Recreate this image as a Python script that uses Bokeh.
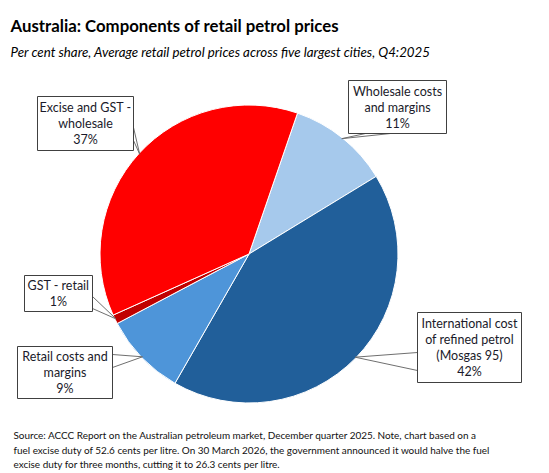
import numpy as np
from bokeh.plotting import figure
from bokeh.models import Range1d, ColumnDataSource
from bokeh.core.properties import value
from bokeh.embed import file_html
from bokeh.resources import INLINE

# ---- data (clockwise order starting from first slice) ----
categories = [["Wholesale costs", "and margins"],
              ["International cost", "of refined petrol", "(Mosgas 95)"],
              ["Retail costs and", "margins"],
              ["GST - retail"],
              ["Excise and GST -", "wholesale"]]
shares = [11, 42, 9, 1, 37]
colors = ["#A6C9EC", "#215F9A", "#4E95D9", "#C00000", "#FF0000"]

title = "Australia: Components of retail petrol prices"
subtitle = "Per cent share, Average retail petrol prices across five largest cities, Q4:2025"
footnote = ["Source: ACCC Report on the Australian petroleum market, December quarter 2025. Note, chart based on  a",
            "fuel excise duty of 52.6 cents per litre. On 30 March 2026, the government announced it would halve the fuel",
            "excise duty for three months, cutting it to 26.3 cents per litre."]

W, H = 545, 470
FONT = "Lato"

def X(px):
    return px

def Y(py):
    return H - py

p = figure(width=W, height=H, x_range=Range1d(0, W), y_range=Range1d(0, H),
           output_backend="svg", toolbar_location=None, min_border=0)
p.axis.visible = False
p.grid.visible = False
p.outline_line_color = None
p.background_fill_color = "white"

# ---- pie ----
cx, cy, r = X(248.5), Y(253.5), 149
first_angle = 19.0  # degrees clockwise from top
vals = np.array(shares, dtype=float)
frac = vals / vals.sum()
cum = np.concatenate([[0], np.cumsum(frac)]) * 360 + first_angle
th1, th2 = cum[:-1], cum[1:]
start = np.radians(90 - th2)
end = np.radians(90 - th1)
mid = np.radians(90 - (th1 + th2) / 2)

src = ColumnDataSource(dict(start=start, end=end, color=colors))
p.wedge(x=cx, y=cy, radius=r, radius_units="screen", start_angle="start", end_angle="end",
        fill_color="color", line_color="white", line_width=1, source=src)

# ---- callout boxes (page px): left, top, right, bottom, base points ----
boxes = [
    (348, 80, 446, 133, [(365, 133), (390, 133)]),
    (417, 312, 521, 382, [(417, 352), (417, 370)]),
    (17, 346, 112, 398, [(112, 354), (112, 367)]),
    (24, 275, 92, 311, [(92, 296), (92, 308)]),
    (37, 96, 133, 150, [(133, 127), (133, 140)]),
]
lh = 16
for i, (l, t, rr, b, base) in enumerate(boxes):
    ax = cx + (r - 1) * np.cos(mid[i])
    ay = cy + (r - 1) * np.sin(mid[i])
    for (bx, by) in base:
        p.line([X(bx), ax], [Y(by), ay], line_color="#6f6f6f", line_width=1)
    p.quad(left=X(l), right=X(rr), top=Y(t), bottom=Y(b), fill_color="white",
           line_color="#404040", line_width=1)
    lines = categories[i] + [f"{shares[i]:.0f}%"]
    n = len(lines)
    yc = (t + b) / 2
    for k, s in enumerate(lines):
        py = yc + (k - (n - 1) / 2) * lh
        p.text(x=[X((l + rr) / 2)], y=[Y(py)], text=[s],
               text_font=value(FONT), text_font_size="12.5px", text_align="center",
               text_baseline="middle", text_color="#1a1a2a")

# ---- titles ----
p.text(x=[X(10)], y=[Y(25)], text=[title], text_font=value(FONT), text_font_style="bold",
       text_font_size="16.8px", text_baseline="alphabetic", text_color="black")
p.text(x=[X(10)], y=[Y(51)], text=[subtitle], text_font=value(FONT), text_font_style="italic",
       text_font_size="13.3px", text_baseline="alphabetic", text_color="black")
for k, line in enumerate(footnote):
    p.text(x=[X(13)], y=[Y(434.5 + 14.7 * k)], text=[line], text_font=value(FONT),
           text_font_size="9.95px", text_baseline="alphabetic", text_color="#111111")

open("out.html", "w").write(file_html(p, INLINE))
